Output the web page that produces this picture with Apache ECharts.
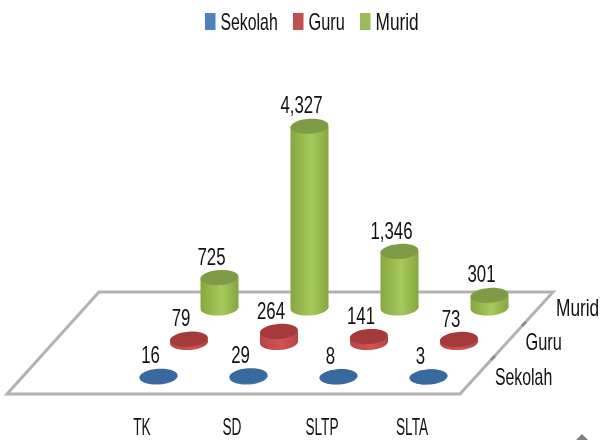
<!DOCTYPE html>
<html>
<head>
<meta charset="utf-8">
<script src="https://cdn.jsdelivr.net/npm/echarts@6/dist/echarts.min.js"></script>
<style>
	html, body { margin: 0; padding: 0; background: #fff; }
	#chart { width: 601px; height: 440px; }
</style>
</head>
<body>
<div id="chart"></div>
<script>
var categories = ['TK', 'SD', 'SLTP', 'SLTA'];
var rowNames = ['Sekolah', 'Guru', 'Murid'];
var sekolah = [16, 29, 8, 3];
var guru = [79, 264, 141, 73];
var murid = [725, 4327, 1346, 301];

var textColor = '#111';
var fontCss = '24px "Liberation Sans", sans-serif';

// depth is faked by shifting each row right and up from the front floor edge
var rowDx = 30.5, rowDy = 34.5, frontDx = 16.5, frontDy = 17;
var rx = 19, ry = 7.5, tilt = 0.07;

function rowOffset(row) {
	return [frontDx + rowDx * row, -(frontDy + rowDy * row)];
}

// no condensed font is installed, so squeeze the text sideways
function label(text, x, y, align, squeeze) {
	return {
		type: 'text',
		x: x,
		y: y,
		scaleX: squeeze,
		style: {x: 0, y: 0, text: text, align: align, verticalAlign: 'middle', font: fontCss, fill: textColor}
	};
}

function ellipse(x, y, fill) {
	return {
		type: 'ellipse',
		x: x,
		y: y,
		rotation: tilt,
		shape: {cx: 0, cy: 0, rx: rx, ry: ry},
		style: {fill: fill}
	};
}

function side(colors) {
	return {
		type: 'linear', x: 0, y: 0, x2: 1, y2: 0,
		colorStops: [
			{offset: 0, color: colors[0]},
			{offset: 0.55, color: colors[1]},
			{offset: 1, color: colors[0]}
		]
	};
}

function cylinderSeries(name, row, values, colors, topColor) {
	return {
		name: name,
		type: 'custom',
		coordinateSystem: 'cartesian2d',
		clip: false,
		z: 10 - row,
		itemStyle: {color: colors[1]},
		encode: {x: 0, y: 1},
		data: values.map(function (v, i) { return [i, v]; }),
		renderItem: function (params, api) {
			var off = rowOffset(row);
			var base = api.coord([api.value(0), 0]);
			var top = api.coord([api.value(0), api.value(1)]);
			var x = base[0] + off[0];
			var y0 = base[1] + off[1];
			var y1 = top[1] + off[1];
			var fill = side(colors);
			return {
				type: 'group',
				children: [
					ellipse(x, y0, fill),
					{type: 'rect', shape: {x: x - rx, y: y1, width: rx * 2, height: y0 - y1}, style: {fill: fill}},
					ellipse(x, y1, topColor),
					label(echarts.format.addCommas(api.value(1)), x - 8, y1 - 19.5, 'center', 0.7)
				]
			};
		}
	};
}

var floorSeries = {
	type: 'custom',
	coordinateSystem: 'cartesian2d',
	clip: false,
	silent: true,
	z: 1,
	data: [[0, 0]],
	renderItem: function (params, api) {
		var first = api.coord([0, 0]);
		var last = api.coord([categories.length - 1, 0]);
		var band = api.size([1, 0])[0];
		var y = first[1];
		var fl = first[0] - band / 2 - 90, fr = last[0] + band / 2 + 3;
		var pts = [[fl, y], [fr, y], [fr + 93, y - 102], [fl + 92, y - 102]];
		var children = [{
			type: 'polygon',
			shape: {points: pts},
			style: {fill: '#fff', stroke: '#b2b2b2', lineWidth: 3, lineJoin: 'miter'}
		}];
		// little depth ticks on the right edge
		[1, 2].forEach(function (i) {
			var f = i / 3 + 0.02;
			children.push({
				type: 'line',
				shape: {
					x1: fr + 93 * f - 2, y1: y - 102 * f + 2,
					x2: fr + 93 * f + 2, y2: y - 102 * f - 2
				},
				style: {stroke: '#8c8c8c', lineWidth: 3}
			});
		});
		rowNames.forEach(function (n, i) {
			children.push(label(n, fr + 35 + rowDx * i, y - frontDy - rowDy * i + 1, 'left', [0.66, 0.68, 0.72][i]));
		});
		categories.forEach(function (c, i) {
			children.push(label(c, api.coord([i, 0])[0], y + 34, 'center', 0.57));
		});
		return {type: 'group', children: children};
	}
};

var legendX = [205, 293, 360];
var legendColors = ['#4f81bd', '#c0504d', '#9bbb59'];
var legendSqueeze = [0.66, 0.68, 0.72];
var legendItems = [];
rowNames.forEach(function (n, i) {
	legendItems.push({
		type: 'rect',
		shape: {x: legendX[i], y: 13, width: 10.5, height: 17},
		style: {fill: legendColors[i]}
	});
	legendItems.push(label(n, legendX[i] + 15.5, 23, 'left', legendSqueeze[i]));
});

var chart = echarts.init(document.getElementById('chart'));
chart.setOption({
	animation: false,
	backgroundColor: '#fff',
	grid: {left: 97, right: 144, top: 58, bottom: 46},
	xAxis: {
		type: 'category',
		data: categories,
		axisLine: {show: false},
		axisTick: {show: false},
		axisLabel: {show: false}
	},
	yAxis: {type: 'value', min: 0, max: 8000, show: false},
	series: [
		cylinderSeries('Sekolah', 0, sekolah, ['#3f6fa6', '#4a7db8'], '#386a9f'),
		cylinderSeries('Guru', 1, guru, ['#b84444', '#d05454'], '#a43a3a'),
		cylinderSeries('Murid', 2, murid, ['#86a63f', '#a6ca5c'], '#7d9c45'),
		floorSeries
	],
	graphic: legendItems.concat([{
		type: 'polygon',
		shape: {points: [[576, 440], [582, 434], [588, 440]]},
		style: {fill: '#808080'}
	}])
});
</script>
</body>
</html>
